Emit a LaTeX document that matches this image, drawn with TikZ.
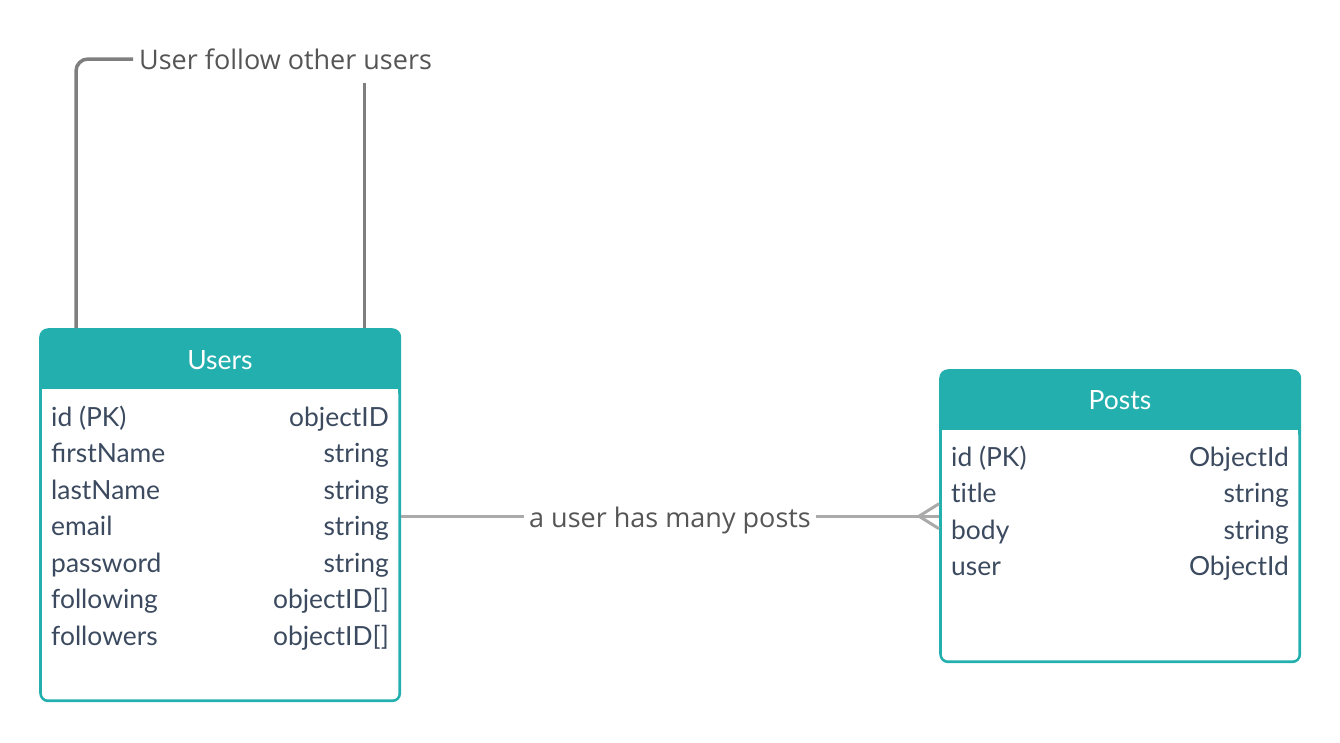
\documentclass[tikz,border=0pt]{standalone}
\usepackage{fontspec}
\setmainfont{Lato}
\newfontfamily\opensans{Open Sans}
\usetikzlibrary{positioning}
\definecolor{teal1}{HTML}{23AFAE}
\definecolor{ink}{HTML}{3B4A5F}
\definecolor{wire}{HTML}{7F7F7F}
\definecolor{wire2}{HTML}{AAAAAA}
\definecolor{lbl}{HTML}{555555}
\tikzset{
  tbl/.style={fill=teal1,rounded corners=9pt,inner sep=0pt},
  hd/.style={text=white,inner sep=0pt,font=\fontsize{26.5}{30}\selectfont},
  fld/.style={text=ink,inner sep=0pt,font=\fontsize{26.4}{30}\selectfont},
  rel/.style={text=lbl,inner sep=6pt,font=\opensans\fontsize{27}{30}\selectfont},
  selfline/.style={draw=wire,line width=3.5pt,rounded corners=12pt},
  hasline/.style={draw=wire2,line width=3pt}
}
\begin{document}
\begin{tikzpicture}[x=1pt,y=-1pt]
\useasboundingbox (0,0) rectangle (1340,742);
\node[tbl,minimum width=362,minimum height=374,anchor=north west] (users) at (39,328) {};
\fill[white,rounded corners=6pt] ([shift={(3,61)}]users.north west) rectangle ([shift={(-3,-3)}]users.south east);
\fill[white] ([shift={(3,61)}]users.north west) rectangle ([shift={(-3,75)}]users.north east);
\node[tbl,minimum width=362,minimum height=294,anchor=north west] (posts) at (939,369) {};
\fill[white,rounded corners=6pt] ([shift={(3,61)}]posts.north west) rectangle ([shift={(-3,-3)}]posts.south east);
\fill[white] ([shift={(3,61)}]posts.north west) rectangle ([shift={(-3,75)}]posts.north east);
\node[hd,anchor=base] (usersh) at (220,369) {Users};
\node[hd,anchor=base] (postsh) at (1120,409) {Posts};
\node[fld,anchor=base west] (u1) at (51,426) {id (PK)};
\node[fld,anchor=base east] (u1t) at (389,426) {objectID};
\node[fld,anchor=base west] (u2) at (51,462.5) {firstName};
\node[fld,anchor=base east] (u2t) at (389,462.5) {string};
\node[fld,anchor=base west] (u3) at (51,499) {lastName};
\node[fld,anchor=base east] (u3t) at (389,499) {string};
\node[fld,anchor=base west] (u4) at (51,535.5) {email};
\node[fld,anchor=base east] (u4t) at (389,535.5) {string};
\node[fld,anchor=base west] (u5) at (51,572) {password};
\node[fld,anchor=base east] (u5t) at (389,572) {string};
\node[fld,anchor=base west] (u6) at (51,608.5) {following};
\node[fld,anchor=base east] (u6t) at (389,608.5) {objectID[]};
\node[fld,anchor=base west] (u7) at (51,645) {followers};
\node[fld,anchor=base east] (u7t) at (389,645) {objectID[]};
\node[fld,anchor=base west] (p1) at (951,466) {id (PK)};
\node[fld,anchor=base east] (p1t) at (1289,466) {ObjectId};
\node[fld,anchor=base west] (p2) at (951,502.5) {t\kern0pt itle};
\node[fld,anchor=base east] (p2t) at (1289,502.5) {string};
\node[fld,anchor=base west] (p3) at (951,539) {body};
\node[fld,anchor=base east] (p3t) at (1289,539) {string};
\node[fld,anchor=base west] (p4) at (951,575.5) {user};
\node[fld,anchor=base east] (p4t) at (1289,575.5) {ObjectId};
\node[rel,anchor=west] (follow) at (133,59) {User follow other users};
\node[rel,inner sep=5pt] (has) at (670,520) {a user has many posts};
\coordinate (fork) at ([xshift=-20pt]posts.west);
\draw[selfline] ([xshift=37pt]users.north west) |- (follow.west);
\draw[selfline] ([xshift=-37pt]users.north east) -- ([xshift=-37pt,yshift=245pt]users.north east);
\draw[hasline] (users.east |- fork) -- (has.west |- fork);
\draw[hasline] (has.east |- fork) -- (posts.west);
\draw[hasline] (fork) -- ([yshift=12.5pt]posts.west);
\draw[hasline] (fork) -- ([yshift=-12.5pt]posts.west);
\end{tikzpicture}
\end{document}
